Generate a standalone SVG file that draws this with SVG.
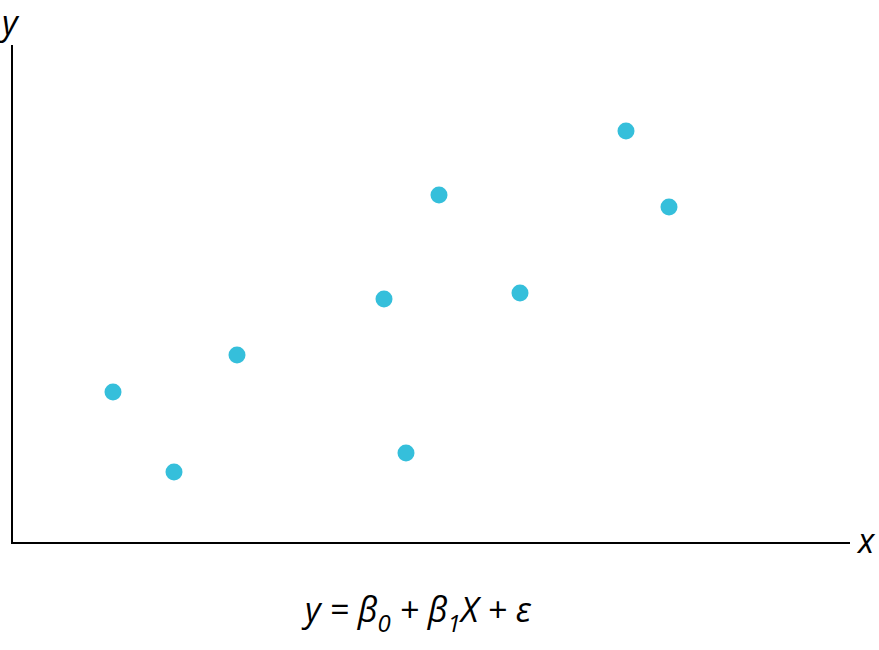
<svg xmlns="http://www.w3.org/2000/svg" width="879" height="650" viewBox="0 0 879 650">
<style>
.ax{stroke:#000;stroke-width:2;fill:none}
.pt{fill:#35bfdb}
.t{font-family:"Open Sans","DejaVu Sans",sans-serif;font-style:italic;font-size:34px;fill:#000}
</style>
<rect width="879" height="650" fill="#fff"/>
<g id="axes" class="ax"><path d="M12 45V543H850"/></g>
<text class="t" x="2" y="35">y</text>
<text class="t" x="858" y="553">x</text>
<g id="points">
<circle class="pt" cx="113" cy="392" r="8.5"/>
<circle class="pt" cx="174" cy="472" r="8.5"/>
<circle class="pt" cx="237" cy="355" r="8.5"/>
<circle class="pt" cx="384" cy="299" r="8.5"/>
<circle class="pt" cx="406" cy="453" r="8.5"/>
<circle class="pt" cx="439" cy="195" r="8.5"/>
<circle class="pt" cx="520" cy="293" r="8.5"/>
<circle class="pt" cx="626" cy="131" r="8.5"/>
<circle class="pt" cx="669" cy="207" r="8.5"/>
</g>
<text class="t" x="305" y="622">y = β<tspan font-size="24" dy="10">0</tspan><tspan dy="-10"> + β</tspan><tspan font-size="24" dy="10">1</tspan><tspan dy="-10">X + ε</tspan></text>
</svg>
